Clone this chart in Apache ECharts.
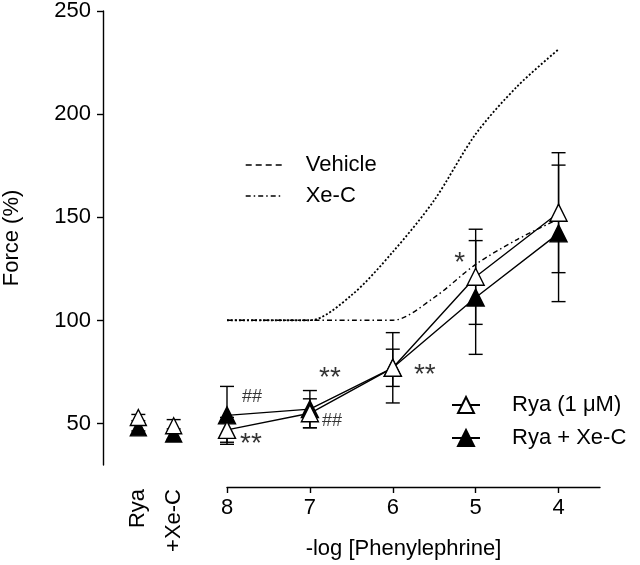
<!DOCTYPE html>
<html><head><meta charset="utf-8">
<script src="https://cdn.jsdelivr.net/npm/echarts@6/dist/echarts.min.js"></script>
<style>html,body{margin:0;padding:0;background:#fff}#c{width:640px;height:565px}</style>
</head><body><div id="c"></div>
<script>
// ---- data ----
const doses = [8, 7, 6, 5, 4];
const doseTicks = [8, 7, 6, 5, 4];
const doseMinorTicks = [7.5, 6.5, 5.5, 4.5];
const yTicks = [50, 100, 150, 200, 250];
const ryaMean = [47, 55, 77, 121, 152];
const ryaSem = [6, 7, 17, 23, 29];
const ryaXeMean = [54, 57, 77, 111, 142];
const ryaXeSem = [14, 9, 9, 27.5, 33];
const baseCats = ['', 'Rya', '+Xe-C', ''];
const baseGroups = ['Rya', '+Xe-C'];
const baseOpenMean = [53, 49];
const baseOpenSem = [1.5, 3];
const baseFilledMean = [48, 45];
const baseFilledSem = [1.5, 2.5];
const vehicleX = [8, 7.5, 7, 6.5, 6, 5.5, 5, 4.5, 4];
const vehicleY = [100, 100, 100, 112, 133, 158, 190, 213, 231];
const xecX = [8, 7.5, 7, 6.5, 6, 5.5, 5, 4.5, 4];
const xecY = [100, 100, 100, 100, 100, 111, 127, 139, 149];
const ryaSig = ['**', '**', '**', '*', ''];
const ryaXeSig = ['##', '##', '', '', ''];

// ---- styles (not data) ----
const FONT = 'Liberation Sans, Arial, sans-serif';
const ryaSigOffset = [[24, 14], [20, -35], [32, 7], [-16, -14], [0, 0]];
const ryaXeSigOffset = [[25, -18], [22, 12], [0, 0], [0, 0], [0, 0]];

function pairs(xs, ys) { return xs.map((x, i) => [x, ys[i]]); }

function errSeries(xi, yi, xs, means, sems) {
  return {
    type: 'custom', xAxisIndex: xi, yAxisIndex: yi, z: 1, silent: true,
    encode: {x: 0, y: [1, 2]},
    data: xs.map((x, i) => [x, means[i] - sems[i], means[i] + sems[i]]),
    renderItem(params, api) {
      const x = api.value(0), lo = api.value(1), hi = api.value(2);
      const p1 = api.coord([x, lo]), p2 = api.coord([x, hi]);
      const w = 7;
      const style = {stroke: '#000', lineWidth: 1.4, fill: null};
      return {type: 'group', children: [
        {type: 'line', shape: {x1: p1[0], y1: p1[1], x2: p2[0], y2: p2[1]}, style},
        {type: 'line', shape: {x1: p1[0] - w, y1: p1[1], x2: p1[0] + w, y2: p1[1]}, style},
        {type: 'line', shape: {x1: p2[0] - w, y1: p2[1], x2: p2[0] + w, y2: p2[1]}, style}
      ]};
    }
  };
}

function sigSeries(means, sigs, offs) {
  return {
    type: 'scatter', xAxisIndex: 1, yAxisIndex: 1, symbolSize: 0, silent: true, z: 5,
    data: doses.map((d, i) => ({
      value: [d, means[i]],
      label: {show: sigs[i] !== '', formatter: sigs[i], offset: offs[i],
        position: 'inside', fontSize: sigs[i].indexOf('*') >= 0 ? 28 : 18,
        color: '#000', fontFamily: FONT}
    }))
  };
}

const openStyle = {color: '#fff', borderColor: '#000', borderWidth: 1.4, opacity: 1};
const filledStyle = {color: '#000', borderColor: '#000', borderWidth: 1.4, opacity: 1};
const hiddenSymbol = {color: 'rgba(0,0,0,0)', borderWidth: 0, opacity: 0};

const chart = echarts.init(document.getElementById('c'), null, {renderer: 'canvas'});
chart.setOption({
  animation: false,
  backgroundColor: '#fff',
  textStyle: {fontFamily: FONT},
  grid: [
    {left: 103, width: 106, top: 10, bottom: 100},
    {left: 227, right: 40, top: 10, bottom: 100}
  ],
  xAxis: [
    {gridIndex: 0, type: 'category', data: baseCats, boundaryGap: false, offset: 22,
      axisLine: {show: false}, axisTick: {show: false}, splitLine: {show: false},
      axisLabel: {rotate: 90, margin: 2, fontSize: 22, color: '#000', fontFamily: FONT, interval: 0}},
    {gridIndex: 1, type: 'value', min: 3.5, max: 8, inverse: true, offset: 22,
      axisLine: {show: true, lineStyle: {color: '#000', width: 1.4}},
      axisTick: {show: true, length: 6, lineStyle: {color: '#000', width: 1.4}, customValues: doseTicks},
      axisLabel: {customValues: doseTicks, margin: 10, fontSize: 22, color: '#000', fontFamily: FONT},
      splitLine: {show: false},
      name: '-log [Phenylephrine]', nameLocation: 'middle', nameGap: 51,
      nameTextStyle: {fontSize: 22, color: '#000', fontFamily: FONT, padding: [0, 20, 0, 0]}},
    {gridIndex: 1, type: 'value', min: 3.5, max: 8, inverse: true, offset: 22,
      axisLine: {show: false},
      axisTick: {show: true, length: 3, lineStyle: {color: '#000', width: 1.2}, customValues: doseMinorTicks},
      axisLabel: {show: false}, splitLine: {show: false}}
  ],
  yAxis: [
    {gridIndex: 0, type: 'value', min: 30, max: 250,
      axisLine: {show: true, lineStyle: {color: '#000', width: 1.4}},
      axisTick: {show: true, length: 6, lineStyle: {color: '#000', width: 1.4}, customValues: yTicks},
      axisLabel: {customValues: yTicks, margin: 12, fontSize: 22, color: '#000', fontFamily: FONT},
      splitLine: {show: false},
      name: 'Force (%)', nameLocation: 'middle', nameGap: 80,
      nameTextStyle: {fontSize: 22, color: '#000', fontFamily: FONT}},
    {gridIndex: 1, type: 'value', min: 30, max: 250, show: false, splitLine: {show: false}}
  ],
  legend: [
    {left: 240, top: 149, orient: 'vertical', itemWidth: 37, itemHeight: 14, itemGap: 9,
      textStyle: {fontSize: 22, color: '#000', fontFamily: FONT, lineHeight: 22, padding: [0, 0, 0, 18]},
      data: [
        {name: 'Vehicle', itemStyle: hiddenSymbol, lineStyle: {type: [6, 4], width: 1.4, color: '#000'}},
        {name: 'Xe-C', itemStyle: hiddenSymbol, lineStyle: {type: [5, 3, 1.5, 3], width: 1.4, color: '#000'}}
      ], selectedMode: false},
    {left: 446, top: 389, orient: 'vertical', itemWidth: 28, itemHeight: 20, itemGap: 11,
      textStyle: {fontSize: 22, color: '#000', fontFamily: FONT, lineHeight: 22, padding: [0, 0, 0, 27]},
      data: ['Rya (1 μM)', 'Rya + Xe-C'], selectedMode: false}
  ],
  series: [
    errSeries(1, 1, doses, ryaXeMean, ryaXeSem),
    errSeries(1, 1, doses, ryaMean, ryaSem),
    errSeries(0, 0, baseGroups, baseFilledMean, baseFilledSem),
    errSeries(0, 0, baseGroups, baseOpenMean, baseOpenSem),
    {name: 'Vehicle', type: 'line', xAxisIndex: 1, yAxisIndex: 1, data: pairs(vehicleX, vehicleY),
      symbol: 'none', smooth: 0.3, z: 2, silent: true,
      lineStyle: {type: [2, 2], width: 1.8, color: '#000'}, itemStyle: {color: '#000'}},
    {name: 'Xe-C', type: 'line', xAxisIndex: 1, yAxisIndex: 1, data: pairs(xecX, xecY),
      symbol: 'none', smooth: 0.3, z: 2, silent: true,
      lineStyle: {type: [5, 3, 1.5, 3], width: 1.4, color: '#000'}, itemStyle: {color: '#000'}},
    {name: 'Rya + Xe-C', type: 'line', xAxisIndex: 1, yAxisIndex: 1, data: pairs(doses, ryaXeMean),
      symbol: 'triangle', symbolSize: 17, z: 3, silent: true,
      lineStyle: {color: '#000', width: 1.4}, itemStyle: filledStyle},
    {name: 'Rya (1 μM)', type: 'line', xAxisIndex: 1, yAxisIndex: 1, data: pairs(doses, ryaMean),
      symbol: 'triangle', symbolSize: 17, z: 4, silent: true,
      lineStyle: {color: '#000', width: 1.4}, itemStyle: openStyle},
    {name: 'baseFilled', type: 'scatter', xAxisIndex: 0, yAxisIndex: 0,
      data: baseGroups.map((g, i) => [g, baseFilledMean[i]]),
      symbol: 'triangle', symbolSize: 16, z: 3, silent: true, itemStyle: filledStyle},
    {name: 'baseOpen', type: 'scatter', xAxisIndex: 0, yAxisIndex: 0,
      data: baseGroups.map((g, i) => [g, baseOpenMean[i]]),
      symbol: 'triangle', symbolSize: 16, z: 4, silent: true, itemStyle: openStyle},
    sigSeries(ryaMean, ryaSig, ryaSigOffset),
    sigSeries(ryaXeMean, ryaXeSig, ryaXeSigOffset)
  ]
});
</script></body></html>
